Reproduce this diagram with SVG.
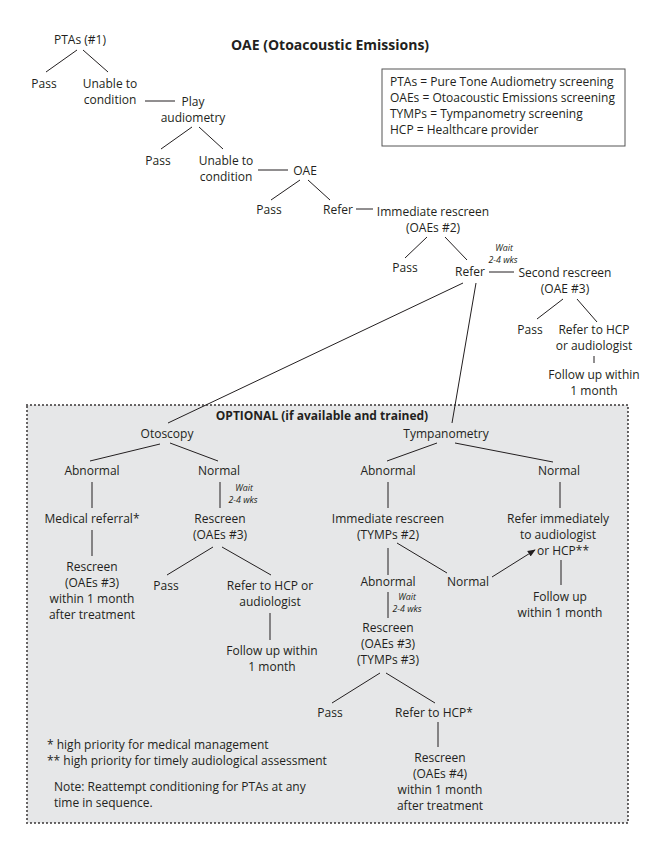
<svg xmlns="http://www.w3.org/2000/svg" width="657" height="850" viewBox="0 0 657 850">
<style>
text{font-family:"Open Sans","Noto Sans","Liberation Sans",sans-serif;font-size:12px;fill:#231f20;text-anchor:middle}
.b{font-weight:bold}
.t{font-size:14px;font-weight:bold}
.w{font-size:8.8px;font-style:italic}
.l{text-anchor:start}
#conn line{stroke:#231f20;stroke-width:1}
</style>
<defs>
<marker id="ah" markerUnits="userSpaceOnUse" markerWidth="8" markerHeight="8" viewBox="0 0 10 10" refX="9" refY="5" orient="auto">
<path d="M0,1 L10,5 L0,9 Z" fill="#231f20"/>
</marker>
</defs>
<rect width="657" height="850" fill="#ffffff"/>
<g id="optional-box">
<rect x="27" y="405" width="601" height="418" fill="#e6e7e8" stroke="#231f20" stroke-width="1.8" stroke-dasharray="0 4" stroke-linecap="round"/>
<text class="b" x="322" y="420">OPTIONAL (if available and trained)</text>
</g>
<g id="title"><text class="t" x="330" y="50">OAE (Otoacoustic Emissions)</text></g>
<g id="legend">
<rect x="382" y="69" width="243" height="77" fill="none" stroke="#555" stroke-width="1"/>
<text class="l" x="390" y="86">PTAs = Pure Tone Audiometry screening</text>
<text class="l" x="390" y="102">OAEs = Otoacoustic Emissions screening</text>
<text class="l" x="390" y="118">TYMPs = Tympanometry screening</text>
<text class="l" x="390" y="134">HCP = Healthcare provider</text>
</g>
<g id="conn">
<line x1="77" y1="50" x2="46" y2="72"/>
<line x1="83" y1="50" x2="108" y2="72"/>
<line x1="145" y1="101" x2="175" y2="101"/>
<line x1="192" y1="127" x2="161" y2="149"/>
<line x1="199" y1="127" x2="223" y2="149"/>
<line x1="258" y1="170" x2="288" y2="170"/>
<line x1="300" y1="180" x2="271" y2="200"/>
<line x1="308" y1="180" x2="330" y2="200"/>
<line x1="356" y1="209" x2="373" y2="209"/>
<line x1="427" y1="237" x2="405" y2="258"/>
<line x1="445" y1="237" x2="467" y2="260"/>
<line x1="489" y1="272" x2="514" y2="272"/>
<line x1="563" y1="299" x2="537" y2="319"/>
<line x1="577" y1="299" x2="597" y2="322"/>
<line x1="594" y1="356" x2="594" y2="363"/>
<line x1="463" y1="283" x2="168" y2="423"/>
<line x1="476" y1="283" x2="452" y2="423"/>
<line x1="160" y1="444" x2="90" y2="461"/>
<line x1="170" y1="443" x2="218" y2="461"/>
<line x1="92" y1="482" x2="92" y2="508"/>
<line x1="220" y1="482" x2="220" y2="508"/>
<line x1="92" y1="530" x2="92" y2="556"/>
<line x1="213" y1="547" x2="167" y2="575"/>
<line x1="222" y1="547" x2="271" y2="575"/>
<line x1="270" y1="613" x2="270" y2="640"/>
<line x1="437" y1="443" x2="387" y2="461"/>
<line x1="455" y1="443" x2="553" y2="462"/>
<line x1="388" y1="482" x2="388" y2="508"/>
<line x1="560" y1="482" x2="560" y2="508"/>
<line x1="397" y1="543" x2="447" y2="573"/>
<line x1="492" y1="577" x2="535" y2="550" marker-end="url(#ah)"/>
<line x1="561" y1="560" x2="561" y2="585"/>
<line x1="388" y1="548" x2="388" y2="575"/>
<line x1="388" y1="592" x2="388" y2="618"/>
<line x1="380" y1="673" x2="332" y2="703"/>
<line x1="386" y1="673" x2="435" y2="703"/>
<line x1="438" y1="722" x2="438" y2="747"/>
</g>
<g id="ptas1"><text x="80" y="44">PTAs (#1)</text></g>
<g id="pass1"><text x="44" y="88">Pass</text></g>
<g id="unable1"><text x="110" y="88">Unable to</text><text x="110" y="104">condition</text></g>
<g id="play"><text x="193" y="106">Play</text><text x="193" y="122">audiometry</text></g>
<g id="pass2"><text x="158" y="165">Pass</text></g>
<g id="unable2"><text x="226" y="165">Unable to</text><text x="226" y="181">condition</text></g>
<g id="oae"><text x="305" y="175">OAE</text></g>
<g id="pass3"><text x="269" y="214">Pass</text></g>
<g id="refer1"><text x="338" y="214">Refer</text></g>
<g id="rescreen2"><text x="433" y="216">Immediate rescreen</text><text x="433" y="232">(OAEs #2)</text></g>
<g id="pass4"><text x="405" y="272">Pass</text></g>
<g id="refer2"><text x="470" y="276">Refer</text></g>
<g id="wait1"><text class="w" x="504" y="251">Wait</text><text class="w" x="503" y="263">2-4 wks</text></g>
<g id="second"><text x="565" y="277">Second rescreen</text><text x="565" y="293">(OAE #3)</text></g>
<g id="pass5"><text x="530" y="334">Pass</text></g>
<g id="refer3"><text x="594" y="334">Refer to HCP</text><text x="594" y="350">or audiologist</text></g>
<g id="follow1"><text x="594" y="379">Follow up within</text><text x="594" y="395">1 month</text></g>
<g id="otoscopy"><text x="167" y="438">Otoscopy</text></g>
<g id="tymp"><text x="446" y="438">Tympanometry</text></g>
<g id="oto-abn"><text x="92" y="475">Abnormal</text></g>
<g id="oto-norm"><text x="219" y="475">Normal</text></g>
<g id="wait2"><text class="w" x="244" y="491">Wait</text><text class="w" x="243" y="503">2-4 wks</text></g>
<g id="medref"><text x="92" y="523">Medical referral*</text></g>
<g id="oto-rescreen-a"><text x="92" y="571">Rescreen</text><text x="92" y="587">(OAEs #3)</text><text x="92" y="603">within 1 month</text><text x="92" y="619">after treatment</text></g>
<g id="oto-rescreen-n"><text x="220" y="523">Rescreen</text><text x="220" y="539">(OAEs #3)</text></g>
<g id="pass6"><text x="166" y="590">Pass</text></g>
<g id="refer4"><text x="270" y="590">Refer to HCP or</text><text x="270" y="606">audiologist</text></g>
<g id="follow2"><text x="272" y="655">Follow up within</text><text x="272" y="671">1 month</text></g>
<g id="ty-abn"><text x="388" y="475">Abnormal</text></g>
<g id="ty-norm"><text x="559" y="475">Normal</text></g>
<g id="ty-rescreen2"><text x="388" y="523">Immediate rescreen</text><text x="388" y="539">(TYMPs #2)</text></g>
<g id="refer-imm"><text x="558" y="523">Refer immediately</text><text x="558" y="539">to audiologist</text><text x="563" y="555">or HCP**</text></g>
<g id="ty-norm2"><text x="468" y="586">Normal</text></g>
<g id="follow3"><text x="560" y="601">Follow up</text><text x="560" y="617">within 1 month</text></g>
<g id="ty-abn2"><text x="388" y="586">Abnormal</text></g>
<g id="wait3"><text class="w" x="407" y="600">Wait</text><text class="w" x="407" y="612">2-4 wks</text></g>
<g id="ty-rescreen3"><text x="388" y="632">Rescreen</text><text x="388" y="648">(OAEs #3)</text><text x="388" y="664">(TYMPs #3)</text></g>
<g id="pass7"><text x="330" y="717">Pass</text></g>
<g id="refer5"><text x="434" y="717">Refer to HCP*</text></g>
<g id="rescreen4"><text x="440" y="762">Rescreen</text><text x="440" y="778">(OAEs #4)</text><text x="440" y="794">within 1 month</text><text x="440" y="810">after treatment</text></g>
<g id="notes">
<text class="l" x="47" y="749">* high priority for medical management</text>
<text class="l" x="47" y="765">** high priority for timely audiological assessment</text>
<text class="l" x="54" y="791">Note: Reattempt conditioning for PTAs at any</text>
<text class="l" x="54" y="807">time in sequence.</text>
</g>
</svg>
